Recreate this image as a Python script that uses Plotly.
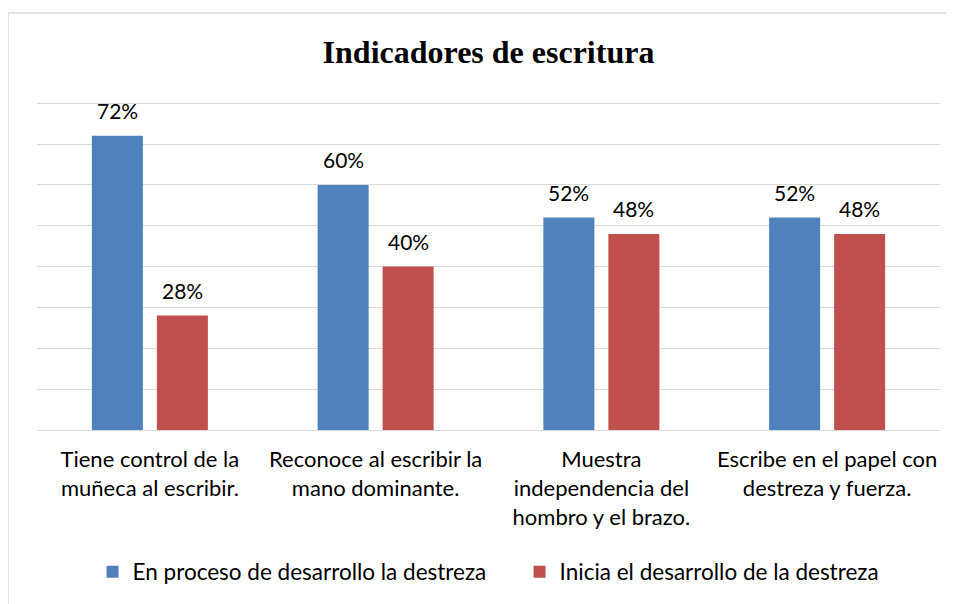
import plotly.graph_objects as go

categories = [
    "Tiene control de la<br>muñeca al escribir.",
    "Reconoce al escribir la<br>mano dominante.",
    "Muestra<br>independencia del<br>hombro y el brazo.",
    "Escribe en el papel con<br>destreza y fuerza.",
]
series_names = ["En proceso de desarrollo la destreza", "Inicia el desarrollo de la destreza"]
en_proceso = [72, 60, 52, 52]
inicia = [28, 40, 48, 48]
colors = ["#4F81BD", "#C0504D"]

FONT = "Lato, Open Sans, sans-serif"

fig = go.Figure()
for name, vals, col in zip(series_names, [en_proceso, inicia], colors):
    fig.add_trace(go.Bar(x=categories, y=vals, name=name, marker=dict(color=col, line=dict(width=0)),
                         hoverinfo="x+y"))

# data labels
for vals, shift in [(en_proceso, -32.5), (inicia, 32.5)]:
    for c, v in zip(categories, vals):
        fig.add_annotation(x=c, y=v, xref="x", yref="y", text=f"{v}%", showarrow=False,
                           xshift=shift, yanchor="bottom", yshift=11,
                           font=dict(family=FONT, size=21, color="#000000"))

# outer chart border (top and left edges visible)
PH = 335.0
top_y = 1 + (87 - 5) / PH
left_x = -29 / 903
fig.add_shape(type="line", xref="paper", yref="paper", x0=left_x, x1=1.3, y0=top_y, y1=top_y,
              line=dict(color="#d9d9d9", width=1.5), layer="below")
fig.add_shape(type="line", xref="paper", yref="paper", x0=left_x, x1=left_x, y0=-0.7, y1=top_y,
              line=dict(color="#d9d9d9", width=1.5), layer="below")

fig.update_layout(
    width=954, height=604,
    margin=dict(l=29, r=22, t=87, b=182),
    paper_bgcolor="white", plot_bgcolor="white",
    barmode="group", bargap=0.424, bargroupgap=0.215,
    title=dict(text="<b>Indicadores de escritura</b>", x=0.5, xref="paper", y=1 - 44 / 604,
               yanchor="middle", xanchor="center",
               font=dict(family="Liberation Serif, Times New Roman, serif", size=32, color="#000000")),
    font=dict(family=FONT, size=22, color="#000000"),
    showlegend=True,
    legend=dict(orientation="h", x=0.5344, xanchor="center", y=(0 - 142) / PH, yanchor="middle",
                font=dict(family=FONT, size=22.5, color="#000000"), itemwidth=30,
                entrywidth=382, entrywidthmode="pixels"),
    xaxis=dict(showgrid=False, showline=False, ticks="outside", ticklen=10, tickcolor="rgba(0,0,0,0)",
               tickfont=dict(family=FONT, size=22, color="#000000")),
    yaxis=dict(range=[0, 82], dtick=10, showgrid=True, gridcolor="#d9d9d9", gridwidth=1,
               showticklabels=False, zeroline=True, zerolinecolor="#d9d9d9", zerolinewidth=1,
               fixedrange=True),
)

fig.write_html("out.html")
